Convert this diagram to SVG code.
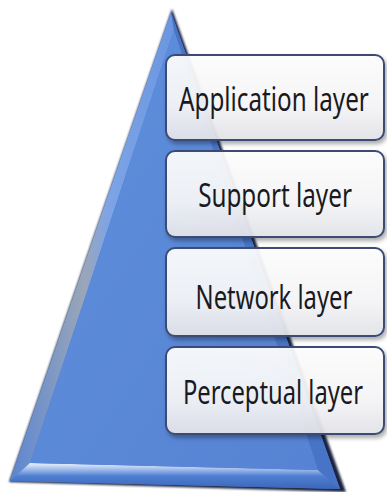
<svg xmlns="http://www.w3.org/2000/svg" width="387" height="492" viewBox="0 0 387 492">
  <defs>
    <linearGradient id="faceGrad" x1="0" y1="0" x2="1" y2="1">
      <stop offset="0" stop-color="#5f8fdc"/>
      <stop offset="1" stop-color="#5683d3"/>
    </linearGradient>
    <linearGradient id="leftBevel" x1="0" y1="0" x2="1" y2="0">
      <stop offset="0" stop-color="#5b86d2"/>
      <stop offset="0.45" stop-color="#9aa6b8"/>
      <stop offset="0.6" stop-color="#7ea4e6"/>
      <stop offset="1" stop-color="#6a96e0"/>
    </linearGradient>
    <linearGradient id="bottomBevel" x1="0" y1="0" x2="0" y2="1">
      <stop offset="0" stop-color="#eef3fc"/>
      <stop offset="0.22" stop-color="#a9c2ee"/>
      <stop offset="0.5" stop-color="#4f7fd2"/>
      <stop offset="1" stop-color="#3a66b8"/>
    </linearGradient>
    <linearGradient id="boxFill" x1="0" y1="0" x2="0" y2="1">
      <stop offset="0" stop-color="#ffffff"/>
      <stop offset="0.6" stop-color="#f7f7f9"/>
      <stop offset="1" stop-color="#e4e5ea"/>
    </linearGradient>
    <filter id="boxShadow" x="-10%" y="-10%" width="125%" height="135%">
      <feDropShadow dx="2" dy="3" stdDeviation="2" flood-color="#000" flood-opacity="0.35"/>
    </filter>
    <filter id="edgeSoft" x="-5%" y="-5%" width="110%" height="110%">
      <feGaussianBlur stdDeviation="0.8"/>
    </filter>
  </defs>
  <style>
    .box { fill: url(#boxFill); fill-opacity: 0.92; stroke: #3b4c74; stroke-width: 2; filter: url(#boxShadow); }
    .label { font-family: "Noto Sans", "Open Sans", sans-serif; font-size: 32px; fill: #1a1a1e; text-anchor: middle; }
  </style>

  <!-- pyramid -->
  <g id="pyramid">
    <!-- dark shadow along the right edge -->
    <polygon points="172,9 9,482 346,492" fill="#1c2440" filter="url(#edgeSoft)"/>
    <!-- bevel body -->
    <polygon points="171,12 10,481 340,489" fill="#4a78c9"/>
    <!-- left bevel strip -->
    <polygon points="171,12 10,481 30,463 174,30" fill="url(#leftBevel)"/>
    <!-- bottom bevel strip -->
    <polygon points="10,481 340,489 318,470 30,463" fill="url(#bottomBevel)"/>
    <!-- right bevel strip -->
    <polygon points="171,12 174,30 318,470 340,489" fill="#4774c6"/>
    <!-- top face -->
    <polygon points="174,30 30,463 318,470" fill="url(#faceGrad)"/>
  </g>

  <!-- layers: labels are drawn condensed horizontally (scale 0.75) -->
  <g id="application-layer">
    <rect class="box" x="166" y="55" width="218" height="85" rx="9"/>
    <text class="label" transform="scale(0.75,1)" x="365.3" y="111" textLength="253" lengthAdjust="spacingAndGlyphs">Application layer</text>
  </g>
  <g id="support-layer">
    <rect class="box" x="166" y="151" width="218" height="86" rx="9"/>
    <text class="label" transform="scale(0.75,1)" x="366.7" y="207" textLength="205" lengthAdjust="spacingAndGlyphs">Support layer</text>
  </g>
  <g id="network-layer">
    <rect class="box" x="166" y="248" width="218" height="88" rx="9"/>
    <text class="label" transform="scale(0.75,1)" x="365.3" y="309" textLength="209" lengthAdjust="spacingAndGlyphs">Network layer</text>
  </g>
  <g id="perceptual-layer">
    <rect class="box" x="166" y="347" width="218" height="87" rx="9"/>
    <text class="label" transform="scale(0.75,1)" x="364" y="404" textLength="240" lengthAdjust="spacingAndGlyphs">Perceptual layer</text>
  </g>
</svg>
